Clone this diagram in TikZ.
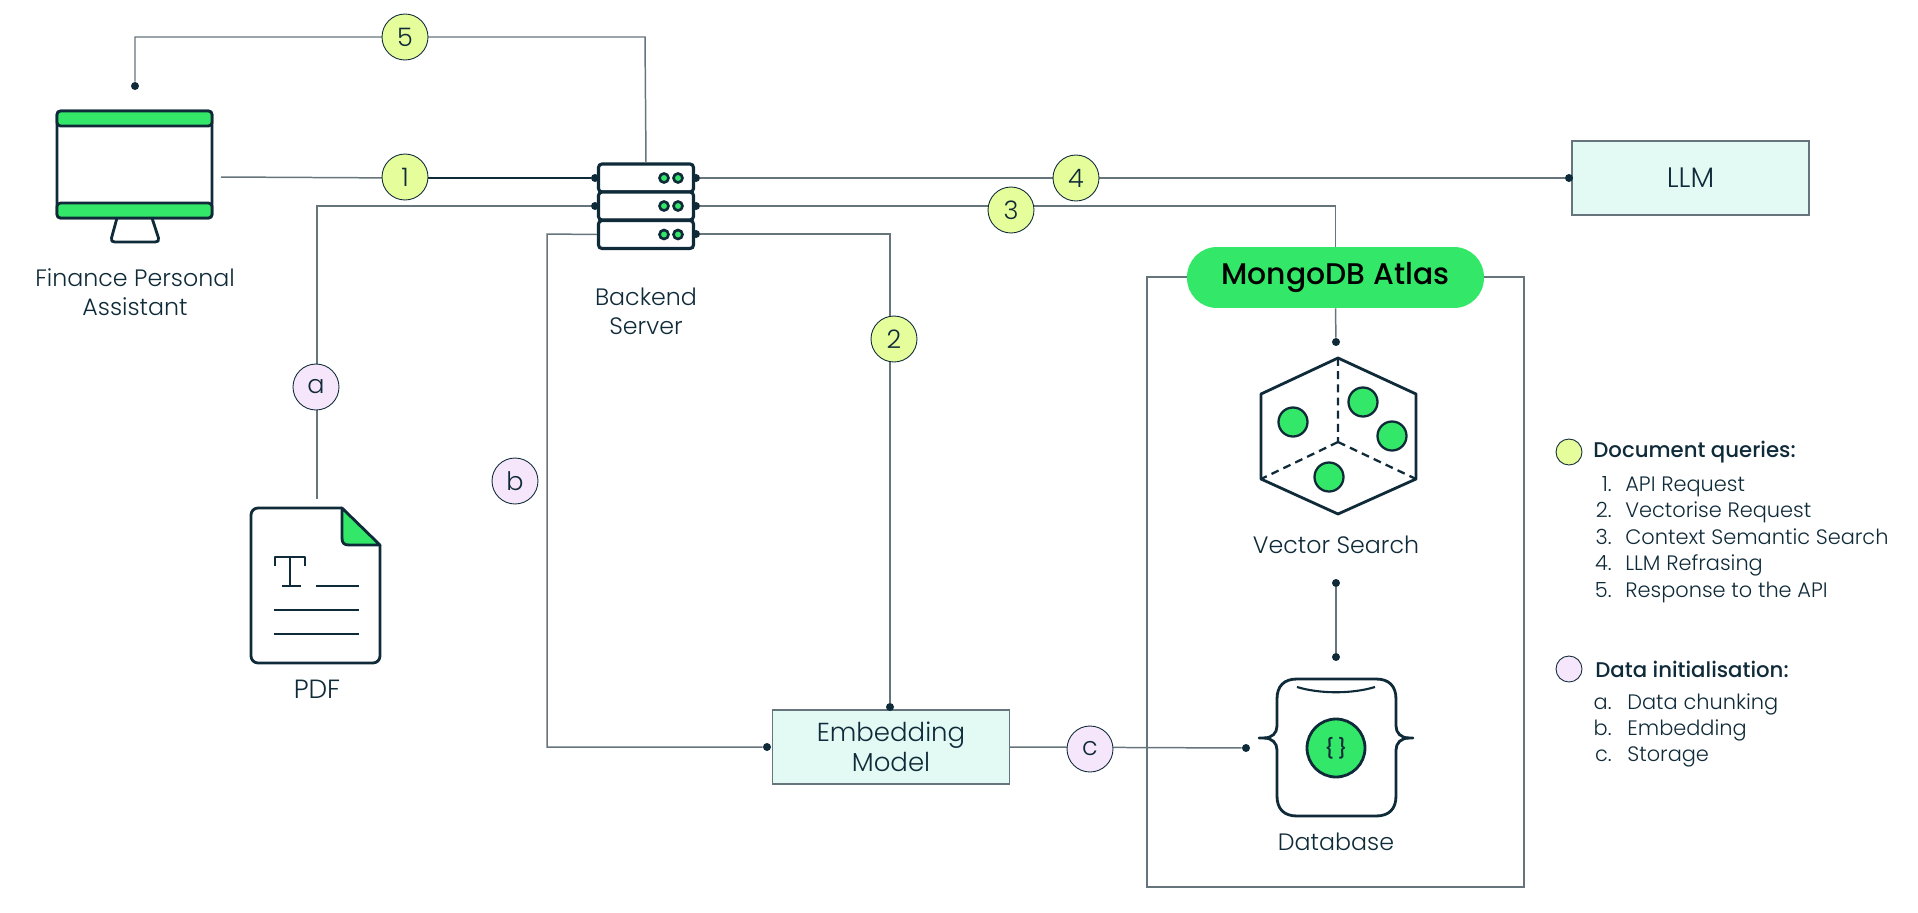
\documentclass[tikz,border=0pt]{standalone}
\usepackage{fontspec}
\setmainfont{Poppins}[UprightFont=* Light,BoldFont=* Medium]
\usetikzlibrary{arrows.meta,positioning,calc,shapes.geometric}
\definecolor{ink}{HTML}{0F2A38}
\definecolor{wire}{HTML}{66757C}
\definecolor{leaf}{HTML}{33E868}
\definecolor{lime}{HTML}{E5FD9A}
\definecolor{mauve}{HTML}{F6E6FB}
\definecolor{mint}{HTML}{E3F9F4}
\tikzset{
  lbl/.style={text=ink,font=\fontsize{13.5}{16.5}\selectfont,align=center,inner sep=0pt},
  listlbl/.style={lbl,font=\fontsize{11.9}{14}\selectfont,anchor=base west},
  headlbl/.style={lbl,font=\fontsize{12.1}{14}\selectfont\bfseries,anchor=west},
  link/.style={draw=wire,line width=.85pt},
  darklink/.style={draw=ink,line width=.9pt},
  pin/.style={circle,fill=ink,inner sep=0pt,minimum size=1.6mm},
  stepq/.style={circle,draw=ink,line width=.5pt,fill=lime,minimum size=9.2mm,inner sep=0pt,text=ink,font=\fontsize{14.5}{15}\selectfont},
  stepd/.style={stepq,fill=mauve},
  legq/.style={stepq,minimum size=5.2mm},
  legd/.style={stepd,minimum size=5.2mm},
  box/.style={draw=wire,line width=.8pt,fill=mint,minimum width=4.74cm,minimum height=1.48cm,inner sep=0pt,text=ink,align=center,font=\fontsize{14.8}{17}\selectfont},
  icon/.style={draw=ink,line width=1.6pt,line join=round},
  srv/.style={draw=ink,line width=1.8pt,fill=white,rounded corners=2pt,minimum width=1.9cm,minimum height=.56cm,inner sep=0pt},
  led/.style={circle,draw=ink,line width=1.5pt,fill=leaf,inner sep=0pt,minimum size=1.8mm}
}
\begin{document}
\begin{tikzpicture}[x=.02cm,y=-.02cm]
  \useasboundingbox (0,0) rectangle (1918,913);

  % monitor
  \draw[icon,fill=white] (117,218) -- (111.5,238) .. controls (111,241) and (112,242) .. (115,242) -- (155,242) .. controls (158,242) and (159,241) .. (158.5,238) -- (152,218);
  \draw[icon,fill=white,rounded corners=2pt] (57,111) rectangle (212,218);
  \draw[icon,fill=leaf,rounded corners=2pt] (57,111) rectangle (212,126);
  \draw[icon,fill=leaf,rounded corners=2pt] (57,203) rectangle (212,218);
  \node[lbl] (finance) at (135,292) {Finance Personal\\Assistant};

  % server
  \node[srv] (srvA) at (646,178) {};
  \node[srv] (srvB) at (646,206) {};
  \node[srv] (srvC) at (646,234.5) {};
  \foreach \r in {A,B,C}{
    \node[led] (led1\r) at ($(srv\r.center)+(18,0)$) {};
    \node[led] (led2\r) at ($(srv\r.center)+(32,0)$) {};
  }
  \node[lbl] (backend) at (646,311) {Backend\\Server};
  \node[pin] (pinAL) at (595,178) {};
  \node[pin] (pinBL) at (595,206) {};
  \node[pin] (pinAR) at (696,178) {};
  \node[pin] (pinBR) at (696,206) {};
  \node[pin] (pinCR) at (696,234) {};

  % pdf
  \draw[icon,rounded corners=4pt] (342,508) -- (251,508) -- (251,663) -- (380,663) -- (380,545);
  \draw[icon,fill=leaf] (342,508) -- (380,545) -- (349,545) .. controls (344,545) and (342,543) .. (342,538) -- cycle;
  \draw[icon,line width=1.3pt] (275,566) -- (275,557) -- (305,557) -- (305,566) (290,557) -- (290,586) (282,586) -- (301,586);
  \draw[icon,line width=1.3pt] (316,586) -- (359,586) (274,610) -- (359,610) (274,634) -- (359,634);
  \node[lbl,font=\fontsize{15}{17}\selectfont] (pdf) at (317,689) {PDF};
  \coordinate (pdfTop) at (317,499);

  % boxes
  \node[box,font=\fontsize{16}{18}\selectfont] (llm) at (1690.5,178) {LLM};
  \node[box] (embed) at (891,747) {Embedding\\Model};
  \node[draw=wire,line width=.8pt,minimum width=7.54cm,minimum height=12.2cm,inner sep=0pt] (atlasBox) at (1335.5,582) {};
  \node[fill=leaf,rounded corners=.6cm,minimum width=5.94cm,minimum height=1.22cm,inner sep=0pt,text=black,font=\fontsize{17}{20}\selectfont\bfseries] (atlas) at (1335.5,277.5) {MongoDB Atlas};

  % vector search
  \node[pin] (pinVec) at (1336,342) {};
  \draw[icon] (1338,358) -- (1416,394) -- (1416,479) -- (1338,514) -- (1261,479) -- (1261,394) -- cycle;
  \draw[icon,line width=1.3pt,dash pattern=on 4.5pt off 3pt] (1338,358) -- (1338,442) (1338,442) -- (1261,479) (1338,442) -- (1416,479);
  \node[circle,icon,line width=1.3pt,fill=leaf,minimum size=5.8mm,inner sep=0pt] (dotA) at (1293,422) {};
  \node[circle,icon,line width=1.3pt,fill=leaf,minimum size=5.8mm,inner sep=0pt] (dotB) at (1363,402) {};
  \node[circle,icon,line width=1.3pt,fill=leaf,minimum size=5.8mm,inner sep=0pt] (dotC) at (1392,436) {};
  \node[circle,icon,line width=1.3pt,fill=leaf,minimum size=5.8mm,inner sep=0pt] (dotD) at (1329,477) {};
  \node[lbl] (vector) at (1336,545) {Vector Search};

  % database
  \draw[icon,line cap=round] (1259,738) -- (1264,738) .. controls (1272,738) and (1277,733) .. (1277,726) -- (1277,699) .. controls (1277,686) and (1284,679) .. (1297,679) -- (1376,679) .. controls (1389,679) and (1396,686) .. (1396,699) -- (1396,726) .. controls (1396,733) and (1401,738) .. (1409,738) -- (1413,738);
  \draw[icon,line cap=round] (1264,738) .. controls (1272,738) and (1277,743) .. (1277,750) -- (1277,796) .. controls (1277,809) and (1284,816) .. (1297,816) -- (1376,816) .. controls (1389,816) and (1396,809) .. (1396,796) -- (1396,750) .. controls (1396,743) and (1401,738) .. (1409,738);
  \draw[icon,line width=1.2pt] (1297,687) .. controls (1320,694) and (1352,694) .. (1375,687);
  \node[circle,icon,fill=leaf,minimum size=1.16cm,inner sep=0pt,font=\fontsize{11}{12}\selectfont\bfseries,text=ink] (dbCore) at (1336,748) {\{\,\}};
  \node[lbl] (database) at (1336,842) {Database};
  \node[pin] (pinDbTop) at (1336,657) {};
  \node[pin] (pinDbL) at (1246,748) {};
  \node[pin] (pinVecB) at (1336,583) {};
  \node[pin] (pinLlm) at (1569,178) {};
  \node[pin] (pinEmbT) at (890,707) {};
  \node[pin] (pinEmbL) at (767,747) {};
  \node[pin] (pinMon) at (135,86) {};
  \coordinate (monR) at (221,177);
  \coordinate (midOne) at (405,178);

  % connectors
  \coordinate (c5a) at (135,37); \coordinate (c5b) at (645,37);
  \coordinate (c3) at (317,206);
  \coordinate (cb) at (547,234);
  \draw[link] (pinMon) -- (c5a) -- (c5b) -- (srvA.north);
  \draw[link] (monR) -- (midOne);
  \draw[darklink] (midOne) -- (pinAL);
  \draw[link] (pinAR) -- (pinLlm);
  \draw[link] (pinBR) -| (atlas.north);
  \draw[link] (pinBL) -- (c3) -- (pdfTop);
  \draw[link] (srvC.west) -- (cb) |- (pinEmbL);
  \draw[link] (pinCR) -| (pinEmbT);
  \draw[link] (embed.east) -- (pinDbL);
  \draw[link] (atlas.south) -- (pinVec);
  \draw[link] (pinVecB) -- (pinDbTop);

  % numbered steps
  \node[stepq] (step1) at (405,177) {1};
  \node[stepq] (step2) at (894,339) {2};
  \node[stepq] (step3) at (1011,210) {3};
  \node[stepq] (step4) at (1076,178) {4};
  \node[stepq] (step5) at (405,37) {5};
  \node[stepd] (stepa) at (316,387) {a};
  \node[stepd] (stepb) at (515,481) {b};
  \node[stepd] (stepc) at (1090,749) {c};

  % legend
  \node[legq] (legQ) at (1569,452) {};
  \node[headlbl] (headQ) at (1593,452) {Document queries:};
  \foreach \n/\t/\y in {1/API Request/491,2/Vectorise Request/517.5,3/Context Semantic Search/544,4/LLM Refrasing/570.5,5/Response to the API/597}{
    \node[listlbl,anchor=base east] (numQ\n) at (1612,\y) {\n.};
    \node[listlbl] (txtQ\n) at (1625,\y) {\t};
  }
  \node[legd] (legD) at (1569,669) {};
  \node[headlbl] (headD) at (1595,669) {Data initialisation:};
  \foreach \n/\t/\y in {a/Data chunking/709.5,b/Embedding/735.5,c/Storage/761.5}{
    \node[listlbl,anchor=base east] (numD\n) at (1612,\y) {\n.};
    \node[listlbl] (txtD\n) at (1627,\y) {\t};
  }
\end{tikzpicture}
\end{document}
